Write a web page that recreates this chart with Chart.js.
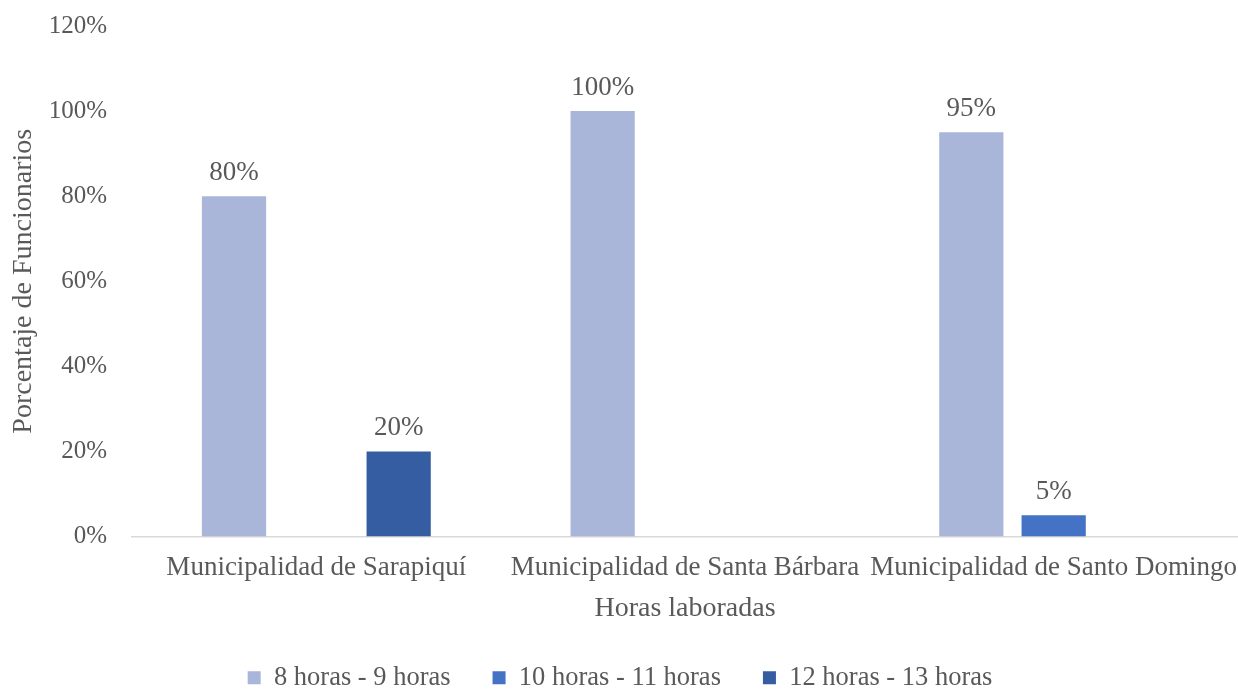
<!DOCTYPE html>
<html>
<head>
<meta charset="utf-8">
<script src="https://cdn.jsdelivr.net/npm/chart.js@4/dist/chart.umd.min.js"></script>
<style>
  html, body { margin: 0; padding: 0; background: #fff; }
  #wrap { width: 1238px; height: 689px; }
</style>
</head>
<body>
<div id="wrap"><canvas id="horas"></canvas></div>
<script>
const categories = [
  "Municipalidad de Sarapiquí",
  "Municipalidad de Santa Bárbara",
  "Municipalidad de Santo Domingo",
];
const seriesNames = ["8 horas - 9 horas", "10 horas - 11 horas", "12 horas - 13 horas"];
const horas8a9 = [80, 100, 95];
const horas10a11 = [null, null, 5];
const horas12a13 = [20, null, null];
const colors = ["#A9B6DA", "#4472C4", "#355DA2"];

const textColor = "#595959";
const fontFamily = "'Liberation Serif', 'Times New Roman', serif";

// draws the % value above each bar
const barLabels = {
  id: "barLabels",
  afterDatasetsDraw(chart) {
    const ctx = chart.ctx;
    ctx.save();
    ctx.font = "27px " + fontFamily;
    ctx.fillStyle = textColor;
    ctx.textAlign = "center";
    ctx.textBaseline = "bottom";
    chart.data.datasets.forEach((ds, i) => {
      const meta = chart.getDatasetMeta(i);
      meta.data.forEach((bar, j) => {
        const v = ds.data[j];
        if (v === null || v === undefined) return;
        ctx.fillText(v + "%", bar.x, bar.y - 10);
      });
    });
    ctx.restore();
  },
};

const ctx = document.getElementById("horas");
new Chart(ctx, {
  type: "bar",
  data: {
    labels: categories,
    datasets: [
      { label: seriesNames[0], data: horas8a9, backgroundColor: colors[0] },
      { label: seriesNames[1], data: horas10a11, backgroundColor: colors[1] },
      { label: seriesNames[2], data: horas12a13, backgroundColor: colors[2] },
    ],
  },
  options: {
    responsive: true,
    maintainAspectRatio: false,
    animation: false,
    layout: { padding: { top: 0, right: -2, left: 0, bottom: -12 } },
    datasets: {
      bar: { categoryPercentage: 0.67, barPercentage: 0.78 },
    },
    plugins: {
      legend: {
        display: true,
        position: "bottom",
        labels: {
          color: textColor,
          font: { family: fontFamily, size: 26.5 },
          boxWidth: 13,
          boxHeight: 13,
          padding: 42,
        },
      },
      tooltip: { enabled: false },
    },
    scales: {
      x: {
        grid: { display: false, drawTicks: false },
        border: { display: true, color: "#D9D9D9", width: 1.5 },
        ticks: {
          color: textColor,
          font: { family: fontFamily, size: 27 },
          padding: 15,
          maxRotation: 0,
          autoSkip: false,
        },
        title: {
          display: true,
          text: "Horas laboradas",
          color: textColor,
          font: { family: fontFamily, size: 28 },
          padding: { top: -7, bottom: -3 },
        },
        afterFit: (axis) => {
          axis.paddingLeft = 0;
          axis.paddingRight = 0;
        },
      },
      y: {
        min: 0,
        max: 120,
        grid: { display: false, drawTicks: false },
        border: { display: false },
        ticks: {
          stepSize: 20,
          color: textColor,
          font: { family: fontFamily, size: 25 },
          padding: 25,
          callback: (v) => v + "%",
        },
        title: {
          display: true,
          text: "Porcentaje de Funcionarios",
          color: textColor,
          font: { family: fontFamily, size: 28 },
          padding: { top: 7, bottom: 0 },
        },
        afterFit: (axis) => {
          axis.width = 132;
          axis.paddingTop = 26;
        },
      },
    },
  },
  plugins: [barLabels],
});
</script>
</body>
</html>
